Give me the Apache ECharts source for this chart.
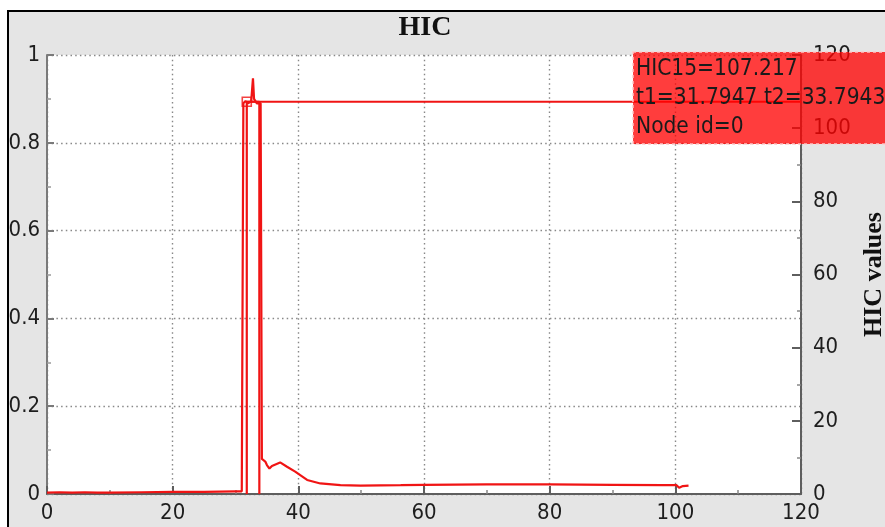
<!DOCTYPE html>
<html>
<head>
<meta charset="utf-8">
<script src="https://cdn.jsdelivr.net/npm/echarts@6.0.0/dist/echarts.min.js"></script>
<style>
  html, body { margin: 0; padding: 0; background: #ffffff; width: 885px; height: 527px; overflow: hidden; }
  #frame { position: absolute; left: 7px; top: 10px; width: 876px; height: 515px;
           border-left: 2px solid #000; border-top: 2px solid #000; background: #e5e5e5; }
  #chart { width: 876px; height: 515px; }
</style>
</head>
<body>
<div id="frame"><div id="chart"></div></div>
<script>
// ---- data ----
const timeValues = [0, 2, 4, 6, 8, 10, 15, 20, 25, 30, 31.0, 31.25, 31.6, 32.0, 32.5, 32.78, 32.95, 33.4, 34.0, 34.2,
  34.74, 35.0, 35.4, 35.8, 37.1, 38.2, 39.5, 40.3, 41.4, 43.5, 46.7, 49.9, 56.3, 60, 70, 80, 90, 98, 100.2, 100.6, 101.2, 102.1];
const accelValues = [0.003, 0.004, 0.003, 0.004, 0.003, 0.003, 0.004, 0.005, 0.005, 0.006, 0.006, 0.89, 0.895, 0.89, 0.895, 0.947, 0.9, 0.89, 0.89, 0.08,
  0.074, 0.066, 0.058, 0.064, 0.072, 0.062, 0.051, 0.043, 0.032, 0.024, 0.020, 0.019, 0.020, 0.021, 0.022, 0.022, 0.021, 0.020, 0.020, 0.014, 0.018, 0.019];
const t1 = 31.7947;
const t2 = 33.7943;
const hic15 = 107.217;
const nodeId = 0;
const xMax = 120;
const labelLines = ['HIC15=' + hic15, 't1=' + t1 + ' t2=' + t2, 'Node id=' + nodeId];

const curve = timeValues.map((t, i) => [t, accelValues[i]]);
const windowLine = [[t1, 0], [t1, hic15], [t2, hic15], [t2, 0]];
const linkLine = [[t1, hic15], [xMax, hic15]];

const tickFont = "'DejaVu Sans Condensed', 'DejaVu Sans', sans-serif";
const serif = "'Liberation Serif', 'DejaVu Serif', serif";
const red = '#f01414';
const axisGray = '#5e5e5e';
const dotted = { show: true, lineStyle: { color: '#888', width: 1.4, type: [1.5, 3.2] } };

const chart = echarts.init(document.getElementById('chart'), null, { renderer: 'canvas' });
chart.setOption({
  animation: false,
  backgroundColor: '#e5e5e5',
  grid: { left: 38, top: 43, right: 84, bottom: 33, outerBoundsMode: 'none', containLabel: false,
          show: true, backgroundColor: '#ffffff', borderWidth: 0 },
  xAxis: {
    type: 'value', min: 0, max: xMax, interval: 20,
    axisLine: { show: true, onZero: false, lineStyle: { color: axisGray, width: 2 } },
    axisTick: { show: true, inside: true, length: 8, lineStyle: { color: axisGray, width: 2 } },
    minorTick: { show: true, splitNumber: 2, length: 4, lineStyle: { color: '#888', width: 1.5 } },
    axisLabel: { fontFamily: tickFont, fontSize: 22, color: '#1e1e1e', margin: 8 },
    splitLine: dotted
  },
  yAxis: [
    {
      type: 'value', position: 'left', min: 0, max: 1, interval: 0.2,
      axisLine: { show: true, lineStyle: { color: '#7a7a7a', width: 2 } },
      axisTick: { show: true, inside: true, length: 7, lineStyle: { color: '#7a7a7a', width: 2 } },
      minorTick: { show: true, splitNumber: 2, length: 4, lineStyle: { color: '#999', width: 1.5 } },
      axisLabel: { fontFamily: tickFont, fontSize: 22, color: '#1e1e1e', margin: 7 },
      splitLine: dotted
    },
    {
      type: 'value', position: 'right', min: 0, max: 120, interval: 20,
      name: 'HIC values', nameLocation: 'middle', nameRotate: 90, nameGap: 59,
      nameTextStyle: { fontFamily: serif, fontWeight: 'bold', fontSize: 26, color: '#111' },
      axisLine: { show: true, lineStyle: { color: axisGray, width: 2 } },
      axisTick: { show: true, inside: true, length: 9, lineStyle: { color: axisGray, width: 2 } },
      minorTick: { show: true, splitNumber: 2, length: 4, lineStyle: { color: '#888', width: 1.5 } },
      axisLabel: { fontFamily: tickFont, fontSize: 22, color: '#1e1e1e', margin: 12 },
      splitLine: { show: false }
    }
  ],
  series: [
    { name: 'acceleration', type: 'line', xAxisIndex: 0, yAxisIndex: 0, data: curve, showSymbol: false,
      lineStyle: { color: red, width: 2.2 }, z: 3 },
    { name: 'HIC window', type: 'line', xAxisIndex: 0, yAxisIndex: 1, data: windowLine, showSymbol: false,
      lineStyle: { color: red, width: 2.2 }, z: 3 },
    { name: 'HIC link', type: 'line', xAxisIndex: 0, yAxisIndex: 1, data: linkLine, showSymbol: false,
      lineStyle: { color: red, width: 2 }, z: 3 },
    { name: 'HIC marker', type: 'scatter', xAxisIndex: 0, yAxisIndex: 1, data: [[t1, hic15]], symbol: 'rect', symbolSize: 9,
      itemStyle: { color: 'rgba(0,0,0,0)', borderColor: red, borderWidth: 1.6 }, z: 4 }
  ],
  graphic: [
    { type: 'text', x: 416, y: 16, z: 50,
      style: { text: 'HIC', font: "bold 28px " + serif, fill: '#111', textAlign: 'center', textVerticalAlign: 'middle' } },
    { type: 'rect', z: 100, shape: { x: 624, y: 40, width: 260, height: 92 },
      style: { fill: 'rgba(255,0,0,0.76)', stroke: 'rgba(255,200,200,0.95)', lineWidth: 1.5, lineDash: [3, 3] } },
    { type: 'text', z: 101, x: 627, y: 57,
      style: { text: labelLines[0], font: "22.5px " + tickFont, fill: '#1a1a1a', textVerticalAlign: 'middle' } },
    { type: 'text', z: 101, x: 627, y: 86,
      style: { text: labelLines[1], font: "22.5px " + tickFont, fill: '#1a1a1a', textVerticalAlign: 'middle' } },
    { type: 'text', z: 101, x: 627, y: 115,
      style: { text: labelLines[2], font: "22.5px " + tickFont, fill: '#1a1a1a', textVerticalAlign: 'middle' } }
  ]
});
</script>
</body>
</html>
